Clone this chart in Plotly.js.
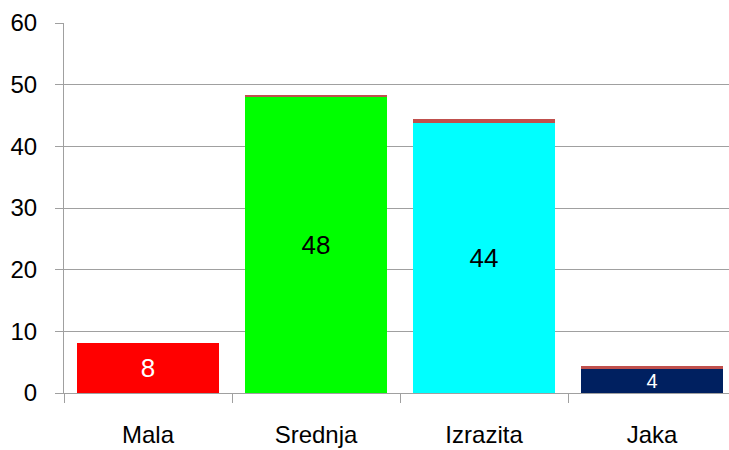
<!DOCTYPE html>
<html>
<head>
<meta charset="utf-8">
<script src="https://cdn.plot.ly/plotly-3.0.1.min.js"></script>
<style>html,body{margin:0;padding:0;background:#fff;}#chart{width:729px;height:450px;}</style>
</head>
<body>
<div id="chart"></div>
<script>
var categories = ["Mala", "Srednja", "Izrazita", "Jaka"];
var mainValues = [8.1, 48, 43.8, 3.9];
var mainLabels = ["8", "48", "44", "4"];
var topValues = [0, 0.3, 0.6, 0.4];
var barColors = ["#FF0000", "#00FF00", "#00FFFF", "#002060"];
var labelColors = ["#FFFFFF", "#000000", "#000000", "#FFFFFF"];
var labelSizes = [26, 26, 26, 20];

var traces = [
  {
    type: "bar",
    x: categories,
    y: mainValues,
    text: mainLabels,
    textposition: "inside",
    insidetextanchor: "middle",
    textangle: 0,
    constraintext: "none",
    textfont: {family: "Liberation Sans, Arial, sans-serif", color: labelColors, size: labelSizes},
    marker: {color: barColors, line: {width: 0}},
    hoverinfo: "skip",
    showlegend: false
  },
  {
    type: "bar",
    x: categories,
    y: topValues,
    marker: {color: "#C0504D", line: {width: 0}},
    hoverinfo: "skip",
    showlegend: false
  }
];

var layout = {
  width: 729,
  height: 450,
  margin: {l: 64, r: 0, t: 23, b: 57},
  paper_bgcolor: "#FFFFFF",
  plot_bgcolor: "#FFFFFF",
  barmode: "stack",
  bargap: 0.155,
  font: {family: "Liberation Sans, Arial, sans-serif", size: 24, color: "#000000"},
  xaxis: {
    range: [-0.5, 3.458],
    tickson: "boundaries",
    ticks: "outside",
    ticklen: 9,
    tickcolor: "#A0A0A0",
    showline: true,
    linecolor: "#A0A0A0",
    linewidth: 1,
    showgrid: false,
    zeroline: false,
    ticklabelstandoff: 20,
    tickfont: {size: 24, color: "#000000"}
  },
  yaxis: {
    range: [0, 60],
    tickvals: [0, 10, 20, 30, 40, 50, 60],
    ticks: "outside",
    ticklen: 8,
    tickcolor: "#A0A0A0",
    showline: true,
    linecolor: "#A0A0A0",
    linewidth: 1,
    showgrid: true,
    gridcolor: "#A0A0A0",
    gridwidth: 1,
    zeroline: false,
    ticklabelstandoff: 13,
    tickfont: {size: 24, color: "#000000"}
  }
};

Plotly.newPlot("chart", traces, layout, {staticPlot: true, displayModeBar: false});
</script>
</body>
</html>
